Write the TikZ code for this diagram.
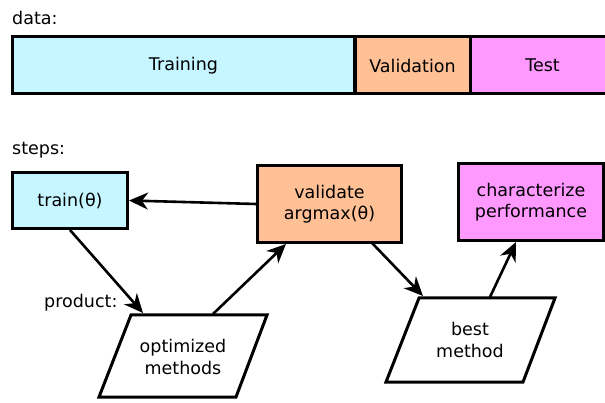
\documentclass[tikz,border=0pt]{standalone}
\usepackage{fontspec}
\setmainfont{DejaVu Sans}
\usetikzlibrary{arrows.meta}
\definecolor{cTrain}{RGB}{198,246,255}
\definecolor{cVal}{RGB}{255,192,150}
\definecolor{cTest}{RGB}{255,153,255}
\begin{document}
\begin{tikzpicture}[x=1pt,y=-1pt,
  every node/.style={font=\fontsize{17.5}{21.5}\selectfont, inner sep=0pt},
  box/.style={draw, line width=3pt, align=center},
  lbl/.style={anchor=west},
  arr/.style={line width=2.6pt, -{Stealth[length=19pt,width=17pt,inset=6pt]}},
  para/.style={draw, line width=3pt, fill=white, line join=miter}
]
\clip (0,0) rectangle (605,403);
\fill[white] (0,0) rectangle (605,403);

% data bar
\node[lbl] (datalbl) at (12,18) {data:};
\node[box, fill=cTrain, minimum width=342pt, minimum height=57pt] (dtrain) at (183.5,65.5) {Training};
\node[box, fill=cVal, minimum width=115pt, minimum height=57pt] (dval) at (412.5,65.5) {Validation};
\node[box, fill=cTest, minimum width=145pt, minimum height=57pt] (dtest) at (542.5,65.5) {Test};

% steps
\node[lbl] (stepslbl) at (12,150) {steps:};
\node[box, fill=cTrain, minimum width=115pt, minimum height=56pt] (tr) at (70,200.5) {train(θ)};
\node[box, fill=cVal, minimum width=144pt, minimum height=77pt] (val) at (329.5,204) {validate\\argmax(θ)};
\node[box, fill=cTest, minimum width=145pt, minimum height=77pt] (chr) at (531,202) {characterize\\performance};

% parallelograms
\draw[para] (131,315) -- (267,315) -- (236,397) -- (99,397) -- cycle;
\node[align=center] (opt) at (183,357) {optimized\\methods};
\draw[para] (419,298) -- (555,298) -- (523,382) -- (386,382) -- cycle;
\node[align=center] (best) at (470,340) {best\\method};

\node[lbl] (prod) at (44,303) {product:};

% connector end points
\coordinate (optin) at (143,313);
\coordinate (optout) at (213,314);
\coordinate (valin) at (286,244);
\coordinate (valout) at (372,243);
\coordinate (bestin) at (423,296);
\coordinate (bestout) at (490,297);
\coordinate (chrin) at (516,242);

\draw[arr] (val.west) -- (tr.east);
\draw[arr] (tr.south) -- (optin);
\draw[arr] (optout) -- (valin);
\draw[arr] (valout) -- (bestin);
\draw[arr] (bestout) -- (chrin);
\end{tikzpicture}
\end{document}
